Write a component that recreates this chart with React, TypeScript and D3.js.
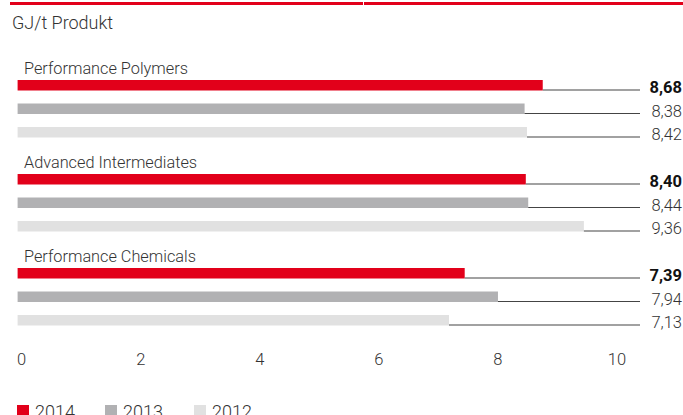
import React from "react";
import * as d3 from "d3";

const categories = ["Performance Polymers", "Advanced Intermediates", "Performance Chemicals"];
const years = ["2014", "2013", "2012"];
const values2014 = [8.68, 8.4, 7.39];
const values2013 = [8.38, 8.44, 7.94];
const values2012 = [8.42, 9.36, 7.13];
const tickValues = [0, 2, 4, 6, 8, 10];
const colors = ["#e2001a", "#b1b1b3", "#e1e1e1"];

const W = 683;
const H = 415;
const FONT = "Roboto, 'Liberation Sans', sans-serif";

export default function App() {
  const series = [values2014, values2013, values2012];
  const x = d3.scaleLinear().domain([0, 10]).range([17.6, 622.6]);
  const xTick = d3.scaleLinear().domain([0, 10]).range([21.7, 617]);
  const group = d3.scaleLinear().domain([0, 1]).range([80, 174]);
  const row = d3.scaleLinear().domain([0, 1]).range([0, 23.5]);
  const barH = 10.5;
  const lineEnd = 640;
  const fmt = (v: number) => d3.format(".2f")(v).replace(".", ",");

  return (
    <svg width={W} height={H} style={{ position: "absolute", left: 0, top: 0, background: "#fff" }}>
      <rect x={10} y={2} width={353} height={3} fill={colors[0]} />
      <rect x={364} y={2} width={W - 364} height={3} fill={colors[0]} />
      <text x={12} y={29} fontFamily={FONT} fontSize={18} fontWeight={300} fill="#333">
        GJ/t Produkt
      </text>
      {categories.map((cat, g) => (
        <g key={cat}>
          <text x={24} y={group(g) - 6} fontFamily={FONT} fontSize={16.3} fontWeight={300} fill="#333">
            {cat}
          </text>
          {series.map((vals, i) => {
            const v = vals[g];
            const top = group(g) + row(i);
            const bottom = top + barH;
            return (
              <g key={i}>
                <rect x={x(0)} y={top} width={x(v) - x(0)} height={barH} fill={colors[i]} />
                <line x1={x(v)} x2={lineEnd} y1={bottom - 0.5} y2={bottom - 0.5} stroke="#444" strokeWidth={1.2} />
                <text
                  x={682}
                  y={bottom + 2.5}
                  textAnchor="end"
                  fontFamily={FONT}
                  fontSize={16.5}
                  fontWeight={i === 0 ? 700 : 300}
                  fill={i === 0 ? "#111" : "#333"}
                >
                  {fmt(v)}
                </text>
              </g>
            );
          })}
        </g>
      ))}
      {tickValues.map((t) => (
        <text key={t} x={xTick(t)} y={365} textAnchor="middle" fontFamily={FONT} fontSize={16.5} fontWeight={300} fill="#333">
          {t}
        </text>
      ))}
      {years.map((yr, i) => {
        const lx = [17, 105, 194][i];
        return (
          <g key={yr}>
            <rect x={lx} y={405} width={12} height={11} fill={colors[i]} />
            <text x={lx + 18} y={418} fontFamily={FONT} fontSize={18} fontWeight={300} fill="#333">
              {yr}
            </text>
          </g>
        );
      })}
    </svg>
  );
}
